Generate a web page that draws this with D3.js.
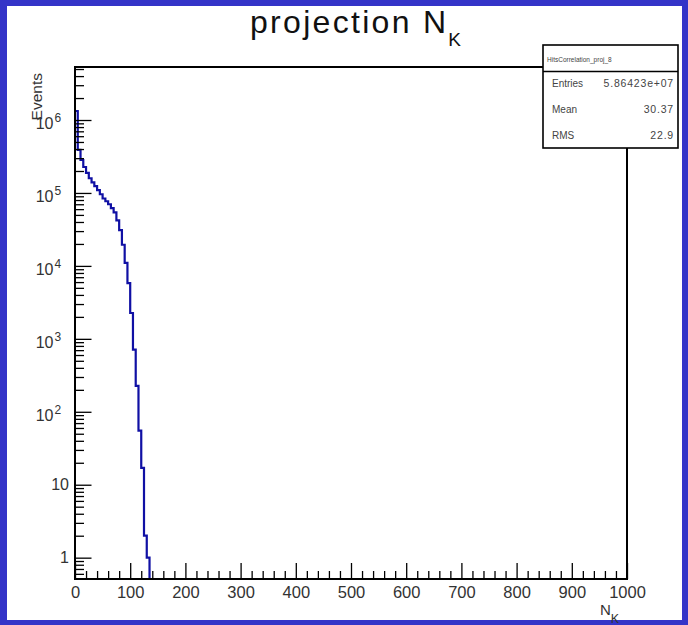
<!DOCTYPE html>
<html>
<head>
<meta charset="utf-8">
<script src="https://cdn.jsdelivr.net/npm/d3@7"></script>
<style>
  html, body { margin: 0; padding: 0; background: #3434c8; overflow: hidden; }
  svg { display: block; font-family: Arial, "Liberation Sans", Helvetica, sans-serif; }
</style>
</head>
<body>
<div id="chart"></div>
<script>
// histogram contents (bin width 5, first bin starts at 0)
const binWidth = 5;
const counts = [1.33e6, 3.9e5, 2.83e5, 2.27e5, 1.88e5, 1.59e5, 1.40e5, 1.24e5, 1.09e5, 9.6e4,
                8.4e4, 7.7e4, 7.0e4, 6.2e4, 5.4e4, 4.2e4, 3.1e4, 1.95e4, 1.1e4, 5.8e3,
                2.26e3, 710, 226, 55, 17, 2, 1];
const xTicks = [0, 100, 200, 300, 400, 500, 600, 700, 800, 900, 1000];
const yDecades = [1, 10, 100, 1e3, 1e4, 1e5, 1e6];
const histName = "HitsCorrelation_proj_8";
const statsRows = [["Entries", "5.86423e+07"], ["Mean", "30.37"], ["RMS", "22.9"]];

const width = 688, height = 625;
const frame = { left: 75, right: 627, top: 67, bottom: 579 };

const svg = d3.select("#chart").append("svg")
  .attr("width", width).attr("height", height);

// white pad inside the blue window border
svg.append("rect")
  .attr("x", 7).attr("y", 6).attr("width", 675).attr("height", 614)
  .attr("fill", "white");

// scales
const x = d3.scaleLinear().domain([0, 1000]).range([frame.left, frame.right]);
const y = d3.scaleLog().domain([0.51, 5.33e6]).range([frame.bottom, frame.top]).clamp(true);

svg.append("clipPath").attr("id", "frame-clip")
  .append("rect")
  .attr("x", frame.left).attr("y", frame.top)
  .attr("width", frame.right - frame.left).attr("height", frame.bottom - frame.top);

// histogram as a step line
const pts = counts.map((c, i) => ({ lo: i * binWidth, c: c }));
pts.push({ lo: counts.length * binWidth, c: 0 });

const line = d3.line()
  .x(d => x(d.lo))
  .y(d => y(Math.max(d.c, 0.51)))
  .curve(d3.curveStepAfter);

svg.append("path")
  .datum(pts)
  .attr("clip-path", "url(#frame-clip)")
  .attr("d", line)
  .attr("fill", "none")
  .attr("stroke", "#1010a4")
  .attr("stroke-width", 2.2);

// x axis, ticks pointing inward
const xMinor = d3.range(0, 1001, 20).filter(v => v % 100 !== 0);
const xAxisG = svg.append("g").attr("transform", `translate(0,${frame.bottom})`);
xAxisG.append("g")
  .call(d3.axisBottom(x).tickValues(xMinor).tickSize(-8).tickFormat(""))
  .call(g => g.select(".domain").remove());
xAxisG.append("g")
  .call(d3.axisBottom(x).tickValues(xTicks).tickSize(-16).tickPadding(7).tickFormat(d3.format("d")))
  .call(g => g.select(".domain").remove())
  .call(g => g.selectAll("text").attr("font-size", 16.5).attr("fill", "#333")
    .attr("font-family", "Arial, 'Liberation Sans', sans-serif"));
xAxisG.selectAll("line").attr("stroke", "#000").attr("stroke-width", 1.3);

// y axis (log), minor ticks 2..9 per decade
const yMinor = [];
[-1, 0, 1, 2, 3, 4, 5, 6].forEach(p => {
  d3.range(2, 10).forEach(m => {
    const v = m * Math.pow(10, p);
    if (v > 0.51 && v < 5.33e6) yMinor.push(v);
  });
});
const yAxisG = svg.append("g").attr("transform", `translate(${frame.left},0)`);
yAxisG.append("g")
  .call(d3.axisLeft(y).tickValues(yMinor).tickSize(-9).tickFormat(""))
  .call(g => g.select(".domain").remove());
yAxisG.append("g")
  .call(d3.axisLeft(y).tickValues(yDecades).tickSize(-16.5).tickFormat(""))
  .call(g => g.select(".domain").remove());
yAxisG.selectAll("line").attr("stroke", "#000").attr("stroke-width", 1.3);

// y labels: plain numbers for 1 and 10, powers of ten above
const yLab = svg.append("g").attr("fill", "#333");
yDecades.forEach(v => {
  const p = Math.round(Math.log10(v));
  if (p < 2) {
    yLab.append("text")
      .attr("x", 69).attr("y", y(v) + 5.5)
      .attr("text-anchor", "end").attr("font-size", 16)
      .text(String(v));
  } else {
    yLab.append("text")
      .attr("x", 53.5).attr("y", y(v) + 9)
      .attr("text-anchor", "end").attr("font-size", 16)
      .text("10");
    yLab.append("text")
      .attr("x", 54.5).attr("y", y(v) + 2)
      .attr("font-size", 12)
      .text(String(p));
  }
});

// frame
svg.append("rect")
  .attr("x", frame.left).attr("y", frame.top)
  .attr("width", frame.right - frame.left).attr("height", frame.bottom - frame.top)
  .attr("fill", "none").attr("stroke", "#000").attr("stroke-width", 2);

// axis titles
svg.append("text")
  .attr("transform", "translate(42,73) rotate(-90)")
  .attr("text-anchor", "end")
  .attr("font-size", 15.5).attr("fill", "#333")
  .text("Events");

const xt = svg.append("text").attr("x", 600).attr("y", 615).attr("fill", "#333");
xt.append("tspan").attr("font-size", 15).text("N");
xt.append("tspan").attr("font-size", 12.5).attr("dy", 8).text("K");

// title
const title = svg.append("text")
  .attr("x", 250).attr("y", 33)
  .attr("fill", "#111");
title.append("tspan").attr("font-size", 32).attr("letter-spacing", 2.3).text("projection N");
title.append("tspan").attr("font-size", 19).attr("dx", 0).attr("dy", 13).text("K");

// stats box
const sb = { x: 543, y: 45, w: 135, h: 103, head: 26.5 };
const stats = svg.append("g");
stats.append("rect")
  .attr("x", sb.x).attr("y", sb.y).attr("width", sb.w).attr("height", sb.h)
  .attr("fill", "white").attr("stroke", "#000").attr("stroke-width", 1.6);
stats.append("line")
  .attr("x1", sb.x).attr("x2", sb.x + sb.w)
  .attr("y1", sb.y + sb.head).attr("y2", sb.y + sb.head)
  .attr("stroke", "#000").attr("stroke-width", 1.6);
stats.append("text")
  .attr("x", sb.x + 4).attr("y", sb.y + 17)
  .attr("font-size", 6.5).attr("fill", "#444")
  .text(histName);
statsRows.forEach((r, i) => {
  const yy = sb.y + 42 + i * 25.8;
  stats.append("text")
    .attr("x", sb.x + 9).attr("y", yy)
    .attr("font-size", 10).attr("fill", "#444")
    .text(r[0]);
  stats.append("text")
    .attr("x", sb.x + sb.w - 4).attr("y", yy)
    .attr("text-anchor", "end")
    .attr("font-size", 10.5).attr("letter-spacing", 0.8).attr("fill", "#444")
    .text(r[1]);
});
</script>
</body>
</html>
